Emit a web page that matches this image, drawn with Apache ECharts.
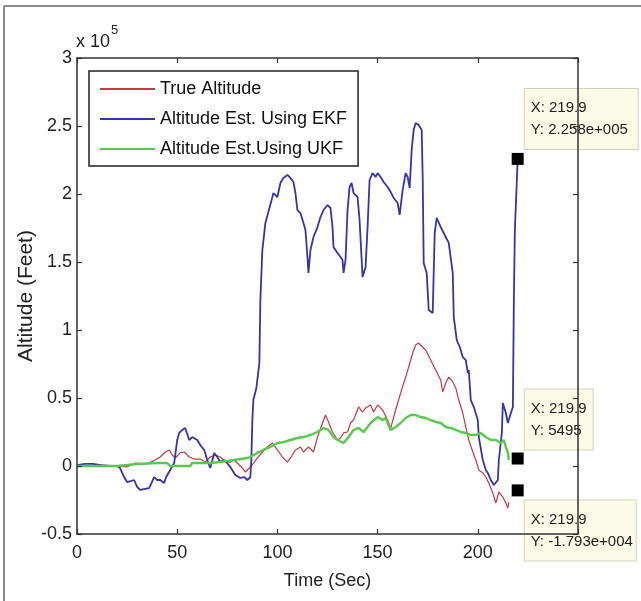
<!DOCTYPE html>
<html><head><meta charset="utf-8">
<script src="https://cdn.jsdelivr.net/npm/echarts@6/dist/echarts.min.js"></script>
<style>html,body{margin:0;padding:0;background:#fff}#c{width:641px;height:601px}</style>
</head><body><div id="c"></div>
<script>
// ---- data (time in s, altitude in ft) ----
const seriesNames = ['True Altitude', 'Altitude Est. Using EKF', 'Altitude Est.Using UKF'];

const trueTime = [0,10,20,25,29,33,36,39,41.5,44,46,47.5,49,51.5,53.5,56,58.5,61.5,64,66.5,69,71.5,74,76.5,78.5,80,82.5,84,86,88.5,90,92.5,95,97.5,100,102.5,105,106.5,109,111.5,113,115.5,118,120,122.5,124,125.5,127.5,130,131.5,133,135,136.5,138,140.5,142.5,144,146.5,148,150,152.5,155,156.5,159,161.5,164,165.5,167.5,169,170.5,172.5,174,176.5,179,181.5,182.5,184,185.5,187.5,189,190.5,192.5,194,195.5,197.5,199,200.5,202.5,204,205.5,207.5,209,210.5,212.5,214,215,215.5];
const trueAlt = [0,700,0,-700,2200,1500,2200,4400,6600,10300,11800,8100,5900,9600,10300,6600,5100,5100,2900,6600,8100,6600,2900,2900,4400,2200,-1500,-4400,-1500,2900,5900,10300,14000,16900,11800,6600,2900,5900,11800,14000,10300,14000,10300,21300,31600,37500,32400,25000,19100,20600,24300,25000,31600,33800,43400,39700,42600,44900,39700,44900,41200,33800,27900,41200,53700,65400,72800,83100,89000,90400,87500,85300,77900,70600,63200,54400,61000,65400,61800,57400,48500,39000,28700,19100,10300,4400,-2900,-5100,-8100,-12500,-19900,-27200,-19100,-22800,-27200,-30900,-26500];

const ekfTime = [0,4,8,12,16.5,20,21.5,23.5,25,28.5,30,31.5,36,38.5,40,41.5,43.5,44.5,46.5,48.5,50,51,52.5,54,56,57.5,60,61.5,63.5,65,66.5,68.5,70,71.5,73.5,76.5,79,81.5,83.5,85,86.5,87,87.5,88,89.5,91,91.5,92.5,94,95.5,97.5,98,100,101.5,103,105,106.5,108,109,110,111.5,113,114,115,115.5,116.5,118,120,121.5,123,125,126.5,127.5,128,130,131.5,132.5,133,134,135,136,137,138,140,141,142.5,144,145,146,147.5,149,150,151.5,153,155,156.5,158,160,161,162.5,164,165,166,167,168,169,170.5,172,172.5,173,174.5,175.5,177.5,178.5,179.5,181.5,184,185.5,187.5,188,189.5,191,192.5,194,195,195.5,196.5,198,200,200.5,202.5,204,205,206.5,208,210,210.5,212,212.5,214,215,216.5,217.5,218,218.5,219.9];
const ekfAlt = [700,1500,1500,700,0,0,-1500,-8100,-11800,-10300,-15400,-17600,-16200,-8100,-10300,-10300,-12500,-8100,-2900,2200,19100,24300,26500,27900,19100,21300,19100,15400,11800,4400,-1500,9600,6600,2900,4400,-700,-6600,-8800,-8100,-10300,-8100,4400,33800,48500,57400,75700,122000,158800,178700,186800,197800,200700,197800,208100,211800,214000,211800,208800,200700,188200,186000,178700,173500,153700,141900,158800,168400,175700,183100,188200,191900,189700,175700,161000,156600,153700,151500,141900,151500,188200,205100,208100,200700,197800,180900,139000,146300,175700,210300,215400,212500,215400,212500,208800,205100,201500,197100,193400,184600,202900,215400,212500,204400,232400,247100,252200,250700,247100,212500,149300,141900,114700,112500,171300,182400,175700,168400,164000,141900,109600,92600,87500,80100,77900,68400,70600,48500,43400,33800,21300,4400,-2900,-5100,-10300,-14000,-10300,4400,24300,46300,39000,31600,39000,43400,122000,173500,225800];

const ukfTime = [0,20,25,30,40,45,46.5,56.5,57.5,66.5,71.5,78.5,85,86.5,90,93,96.5,100,103,106.5,110,113,116.5,120,123,125.5,128,130,133,135.5,138,140.5,143,145,146.5,150,152.5,154,156.5,159,161.5,164,166.5,169,171.5,174,176.5,179,181.5,184,186.5,189,191.5,194,196.5,199,201.5,204,206.5,209,211.5,213,214,215,215.5];
const ukfAlt = [0,0,700,1500,2200,2200,0,0,2200,2200,2900,4400,5900,6600,9600,11800,14000,16900,17600,19100,20600,21300,22800,25000,27900,26500,21300,19100,16900,21300,26500,27900,25000,28700,31600,36000,33800,35300,26500,28700,31600,35300,37500,37500,36000,35300,33800,32400,31600,28700,27900,26500,25000,24300,22800,22800,24300,21300,19100,19100,16900,19100,13900,9600,4400];

// data tips
const tipTime = [219.9, 219.9, 219.9];
const tipValue = [225800, 5495, -17930];
const tipXText = ['219.9', '219.9', '219.9'];
const tipYText = ['2.258e+005', '5495', '-1.793e+004'];

// axis ticks
const xTicks = [0, 50, 100, 150, 200, 250];
const yTicks = [-50000, 0, 50000, 100000, 150000, 200000, 250000, 300000];

// ---- chart ----
const pair = (t, v) => t.map((x, i) => [x, v[i]]);
const FONT = "'Liberation Sans', Arial, sans-serif";
const AX = '#333';
const chart = echarts.init(document.getElementById('c'), null, {renderer: 'canvas'});

const baseX = {
  type: 'value', min: xTicks[0], max: xTicks[xTicks.length - 1], interval: xTicks[1] - xTicks[0],
  axisLine: {show: true, onZero: false, lineStyle: {color: AX, width: 1.5}},
  axisTick: {show: true, inside: true, length: 5, lineStyle: {color: AX, width: 1.2}},
  splitLine: {show: false}, z: 5
};
const baseY = {
  type: 'value', min: yTicks[0], max: yTicks[yTicks.length - 1], interval: yTicks[1] - yTicks[0],
  axisLine: {show: true, onZero: false, lineStyle: {color: AX, width: 1.5}},
  axisTick: {show: true, inside: true, length: 5, lineStyle: {color: AX, width: 1.2}},
  splitLine: {show: false}, z: 5
};
const tipLayout = [
  {position: [13, -64], width: 101},
  {position: [13, -63], width: 56},
  {position: [13, 16], width: 99}
];

const option = {
  animation: false,
  backgroundColor: '#fff',
  grid: {left: 77, right: 63, top: 58, bottom: 67, containLabel: false},
  legend: {
    data: seriesNames, left: 89, top: 71, orient: 'vertical',
    itemWidth: 55, itemHeight: 2, itemGap: 0, icon: 'rect',
    padding: [3, 11, 2, 11], borderColor: '#222', borderWidth: 1.5, backgroundColor: '#fff',
    textStyle: {fontFamily: FONT, fontSize: 18, color: '#111', lineHeight: 30},
    selectedMode: false
  },
  xAxis: [
    Object.assign({}, baseX, {
      position: 'bottom', name: 'Time (Sec)', nameLocation: 'middle', nameGap: 38,
      nameMoveOverlap: false,
      nameTextStyle: {fontFamily: FONT, fontSize: 18, color: '#222'},
      axisLabel: {fontFamily: FONT, fontSize: 18, color: '#222', margin: 10,
        formatter: v => (v === xTicks[xTicks.length - 1] ? '' : String(v))}
    }),
    Object.assign({}, baseX, {position: 'top', axisLabel: {show: false}})
  ],
  yAxis: [
    Object.assign({}, baseY, {
      position: 'left', name: 'Altitude (Feet)', nameLocation: 'middle', nameRotate: 90, nameGap: 40,
      nameMoveOverlap: false,
      nameTextStyle: {fontFamily: FONT, fontSize: 21, color: '#222'},
      axisLabel: {fontFamily: FONT, fontSize: 18, color: '#222', margin: 5,
        formatter: v => String(parseFloat((v / 1e5).toFixed(2)))}
    }),
    Object.assign({}, baseY, {position: 'right', axisLabel: {show: false}})
  ],
  graphic: [
    {type: 'line', shape: {x1: 4, y1: 6, x2: 641, y2: 6}, style: {stroke: '#666', lineWidth: 1.5}, silent: true},
    {type: 'line', shape: {x1: 4, y1: 6, x2: 4, y2: 601}, style: {stroke: '#666', lineWidth: 1.5}, silent: true},
    {type: 'text', left: 76, top: 33, style: {text: 'x 10', font: "18px " + FONT, fill: '#222'}},
    {type: 'text', left: 111, top: 24, style: {text: '5', font: "13px " + FONT, fill: '#222'}}
  ],
  series: [
    {name: seriesNames[0], type: 'line', data: pair(trueTime, trueAlt), showSymbol: false,
      color: '#c43a44', lineStyle: {color: '#c43a44', width: 1.2}, z: 2},
    {name: seriesNames[1], type: 'line', data: pair(ekfTime, ekfAlt), showSymbol: false,
      color: '#3535a8', lineStyle: {color: '#3535a8', width: 1.8}, z: 2},
    {name: seriesNames[2], type: 'line', data: pair(ukfTime, ukfAlt), showSymbol: false,
      color: '#58c84e', lineStyle: {color: '#58c84e', width: 2.4}, z: 2},
    {name: 'tips', type: 'scatter', symbol: 'rect', symbolSize: 12, z: 3,
      itemStyle: {color: '#000', opacity: 1},
      data: tipTime.map((t, i) => ({
        value: [t, tipValue[i]],
        label: {
          show: true, position: tipLayout[i].position, width: tipLayout[i].width,
          formatter: 'X: ' + tipXText[i] + '\nY: ' + tipYText[i],
          fontFamily: FONT, fontSize: 15, color: '#222', lineHeight: 22,
          align: 'left', verticalAlign: 'top',
          backgroundColor: '#fbfbe8', borderColor: '#d2d2bc', borderWidth: 1,
          padding: [8, 6, 8, 6]
        }
      }))
    }
  ]
};
chart.setOption(option);
</script></body></html>
